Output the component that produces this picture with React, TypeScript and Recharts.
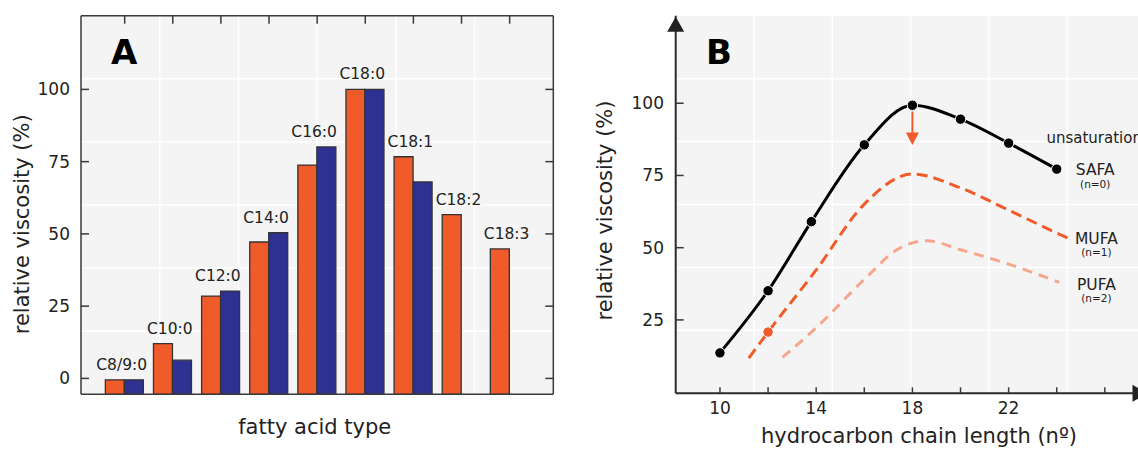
import React from 'react';
import {
  ComposedChart, Bar, Line, XAxis, YAxis, CartesianGrid, LabelList, ReferenceDot,
} from 'recharts';

const FONT = '"DejaVu Sans", Verdana, sans-serif';
const ORANGE = '#f15a29';
const BLUE = '#2e3192';
const SALMON = '#f5a68c';
const INK = '#222';
const AXIS = '#3a3a3a';
const PANEL_BG = '#f4f4f4';

// panel A: relative viscosity per fatty acid
const acids = ['C8/9:0', 'C10:0', 'C12:0', 'C14:0', 'C16:0', 'C18:0', 'C18:1', 'C18:2', 'C18:3'];
const orangeVals = [-0.5, 12, 28.5, 47.2, 73.8, 100, 76.7, 56.7, 44.8];
const blueVals: (number | null)[] = [-0.5, 6.3, 30.2, 50.4, 80.1, 100, 68, null, null];
const yTicksA = [0, 25, 50, 75, 100];
const Y_DOMAIN_A: [number, number] = [-5.5, 125.5];

// panel B: viscosity vs chain length
const safa = [
  { n: 10, v: 13.6 }, { n: 12, v: 35.1 }, { n: 13.8, v: 59 }, { n: 16, v: 85.6 },
  { n: 18, v: 99.3 }, { n: 20, v: 94.5 }, { n: 22, v: 86.2 }, { n: 24, v: 77.2 },
];
const mufa = [
  { n: 11.2, v: 11.8 }, { n: 12, v: 20.8 }, { n: 14, v: 42.3 }, { n: 16, v: 65.1 },
  { n: 18, v: 75.5 }, { n: 20, v: 70.7 }, { n: 22, v: 63 }, { n: 24, v: 55.1 }, { n: 24.5, v: 53.2 },
];
const pufa = [
  { n: 12.6, v: 12 }, { n: 14, v: 22.3 }, { n: 16, v: 39 }, { n: 17.4, v: 49.5 },
  { n: 18.6, v: 52.4 }, { n: 20, v: 49.3 }, { n: 22, v: 44.3 }, { n: 24.1, v: 38 },
];
const MUFA_MARKED = 12;
const xTicksB = [10, 12, 14, 16, 18, 20, 22, 24, 26];
const xLabelsB = [10, 14, 18, 22];
const yTicksB = [25, 50, 75, 100];
const X_DOMAIN_B: [number, number] = [8.16, 27.69];
const Y_DOMAIN_B: [number, number] = [-0.4, 130.3];

// background grid: each panel split 6 x 6, not tied to the ticks
const GRID_DIV = 6;
const gridSteps = [1, 2, 3, 4, 5];

const barRows = acids.map((name, i) => ({
  name,
  sat: orangeVals[i],
  unsat: blueVals[i],
  top: Math.max(orangeVals[i], blueVals[i] ?? -Infinity),
}));

const vGrid = ({ offset }: any) => gridSteps.map((k) => offset.left + (offset.width * k) / GRID_DIV);
const hGrid = ({ offset }: any) => gridSteps.map((k) => offset.top + (offset.height * k) / GRID_DIV);

const LeftTick = ({ x, y, payload, gap }: any) => (
  <g>
    <line x1={x + gap} x2={x + gap + 8} y1={y} y2={y} stroke={AXIS} strokeWidth={1.5} />
    <text x={x} y={y} dy={6} textAnchor="end" fontSize={17} fill={INK} fontFamily={FONT}>
      {payload.value}
    </text>
  </g>
);

const RightTick = ({ x, y }: any) => (
  <line x1={x - 8} x2={x} y1={y} y2={y} stroke={AXIS} strokeWidth={1.5} />
);

const TopTick = ({ x, y }: any) => (
  <line x1={x} x2={x} y1={y} y2={y + 8} stroke={AXIS} strokeWidth={1.5} />
);

const BottomTickB = ({ x, y, payload }: any) => (
  <g>
    <line x1={x} x2={x} y1={y - 6} y2={y} stroke={AXIS} strokeWidth={1.5} />
    {xLabelsB.includes(payload.value) && (
      <text x={x} y={y + 21} textAnchor="middle" fontSize={17} fill={INK} fontFamily={FONT}>
        {payload.value}
      </text>
    )}
  </g>
);

const CatLabel = ({ x, y, value }: any) => (
  <text x={x - 3} y={y - 10} textAnchor="middle" fontSize={15.5} fill={INK} fontFamily={FONT}>
    {value}
  </text>
);

const seriesTag = (name: string, sub: string, subGap: number) => (p: any) => (
  <g>
    <text x={p.cx} y={p.cy} textAnchor="middle" fontSize={15.5} fill={INK} fontFamily={FONT}>{name}</text>
    <text x={p.cx} y={p.cy + subGap} textAnchor="middle" fontSize={10.5} fill={INK} fontFamily={FONT}>{sub}</text>
  </g>
);

const PanelA = () => (
  <ComposedChart
    width={570}
    height={453}
    data={barRows}
    margin={{ top: 14.7, right: 15.7, bottom: 57.7, left: 21 }}
    barGap={0}
    barCategoryGap={4.75}
  >
    <CartesianGrid stroke="#ffffff" strokeWidth={1.5} fill={PANEL_BG}
      verticalCoordinatesGenerator={vGrid} horizontalCoordinatesGenerator={hGrid} />
    <XAxis xAxisId="cat" dataKey="name" orientation="top" height={1} interval={0}
      tickSize={0} tickMargin={0} tickLine={false} tick={<TopTick />}
      axisLine={{ stroke: AXIS, strokeWidth: 1.5 }} padding={{ left: 19.6, right: 19.6 }} />
    <XAxis xAxisId="edge" dataKey="name" orientation="bottom" height={1}
      tick={false} tickLine={false} axisLine={{ stroke: AXIS, strokeWidth: 1.5 }} />
    <YAxis yAxisId="v" type="number" domain={Y_DOMAIN_A} ticks={yTicksA} allowDataOverflow width={60}
      tickSize={0} tickMargin={11} tickLine={false} tick={<LeftTick gap={11} />}
      axisLine={{ stroke: AXIS, strokeWidth: 1.5 }} />
    <YAxis yAxisId="vr" orientation="right" type="number" domain={Y_DOMAIN_A} ticks={yTicksA}
      allowDataOverflow width={1} tickSize={0} tickMargin={0} tickLine={false} tick={<RightTick />}
      axisLine={{ stroke: AXIS, strokeWidth: 1.5 }} />
    <Bar xAxisId="cat" yAxisId="v" dataKey={(d: any) => [Y_DOMAIN_A[0], d.sat]}
      fill={ORANGE} stroke="#333" strokeWidth={1.3} isAnimationActive={false} />
    <Bar xAxisId="cat" yAxisId="v" dataKey={(d: any) => (d.unsat == null ? null : [Y_DOMAIN_A[0], d.unsat])}
      fill={BLUE} stroke="#333" strokeWidth={1.3} isAnimationActive={false} />
    <Line xAxisId="cat" yAxisId="v" dataKey="top" stroke="none" dot={false} activeDot={false}
      isAnimationActive={false}>
      <LabelList dataKey="name" content={<CatLabel />} />
    </Line>
  </ComposedChart>
);

const PanelB = () => (
  <ComposedChart width={580} height={453} margin={{ top: 15.7, right: 14.5, bottom: 29.7, left: 35.7 }}>
    <CartesianGrid stroke="#ffffff" strokeWidth={1.5} fill={PANEL_BG}
      verticalCoordinatesGenerator={vGrid} horizontalCoordinatesGenerator={hGrid} />
    <XAxis xAxisId="x" type="number" dataKey="n" domain={X_DOMAIN_B} ticks={xTicksB} allowDataOverflow
      height={30} tickSize={0} tickMargin={0} tickLine={false} tick={<BottomTickB />}
      axisLine={{ stroke: '#2a2a2a', strokeWidth: 2 }} />
    <YAxis yAxisId="y" type="number" domain={Y_DOMAIN_B} ticks={yTicksB} allowDataOverflow width={60}
      tickSize={0} tickMargin={11.7} tickLine={false} tick={<LeftTick gap={11.7} />}
      axisLine={{ stroke: '#2a2a2a', strokeWidth: 2 }} />
    <Line xAxisId="x" yAxisId="y" data={pufa} dataKey="v" type="monotone" stroke={SALMON}
      strokeWidth={3} strokeDasharray="10 7" dot={false} activeDot={false} isAnimationActive={false} />
    <Line xAxisId="x" yAxisId="y" data={mufa} dataKey="v" type="monotone" stroke={ORANGE}
      strokeWidth={3} strokeDasharray="11 6" activeDot={false} isAnimationActive={false}
      dot={(p: any) => (p.payload.n === MUFA_MARKED
        ? <circle key={`m${p.index}`} cx={p.cx} cy={p.cy} r={5.2} fill={ORANGE} stroke="#fff" strokeWidth={1} />
        : <g key={`m${p.index}`} />)} />
    <Line xAxisId="x" yAxisId="y" data={safa} dataKey="v" type="monotone" stroke="#000"
      strokeWidth={3} activeDot={false} isAnimationActive={false}
      dot={{ r: 5.2, fill: '#000', stroke: '#fff', strokeWidth: 1 }} />
    {/* arrow: unsaturation lowers the peak */}
    <ReferenceDot xAxisId="x" yAxisId="y" x={18} y={97.1} ifOverflow="visible"
      shape={(p: any) => (
        <g>
          <line x1={p.cx} x2={p.cx} y1={p.cy} y2={p.cy + 22} stroke={ORANGE} strokeWidth={2} />
          <path d={`M${p.cx - 6.5},${p.cy + 21} L${p.cx + 6.5},${p.cy + 21} L${p.cx},${p.cy + 33.5} Z`} fill={ORANGE} />
        </g>
      )} />
    {/* axis arrowheads */}
    <ReferenceDot xAxisId="x" yAxisId="y" x={X_DOMAIN_B[0]} y={Y_DOMAIN_B[1]} ifOverflow="visible"
      shape={(p: any) => <path d={`M${p.cx},${p.cy + 1} L${p.cx - 8.5},${p.cy + 16} L${p.cx + 8.5},${p.cy + 16} Z`} fill="#222" />} />
    <ReferenceDot xAxisId="x" yAxisId="y" x={X_DOMAIN_B[1]} y={Y_DOMAIN_B[0]} ifOverflow="visible"
      shape={(p: any) => <path d={`M${p.cx + 2},${p.cy} L${p.cx - 13},${p.cy - 8.5} L${p.cx - 13},${p.cy + 8.5} Z`} fill="#222" />} />
    <ReferenceDot xAxisId="x" yAxisId="y" x={23.57} y={86.2} ifOverflow="visible"
      shape={(p: any) => (
        <text x={p.cx} y={p.cy} fontSize={15} fill={INK} fontFamily={FONT}>unsaturation</text>
      )} />
    <ReferenceDot xAxisId="x" yAxisId="y" x={25.6} y={75.2} ifOverflow="visible" shape={seriesTag('SAFA', '(n=0)', 13.5)} />
    <ReferenceDot xAxisId="x" yAxisId="y" x={25.65} y={51.2} ifOverflow="visible" shape={seriesTag('MUFA', '(n=1)', 12)} />
    <ReferenceDot xAxisId="x" yAxisId="y" x={25.65} y={35.4} ifOverflow="visible" shape={seriesTag('PUFA', '(n=2)', 12.5)} />
  </ComposedChart>
);

export default function App() {
  return (
    <div style={{ position: 'absolute', left: 0, top: 0, width: 1138, height: 453, overflow: 'hidden', background: '#fff', fontFamily: FONT }}>
      <div style={{ position: 'absolute', left: 0, top: 0 }}>
        <PanelA />
      </div>
      <div style={{ position: 'absolute', left: 580, top: 0 }}>
        <PanelB />
      </div>
      <svg width={1138} height={453} style={{ position: 'absolute', left: 0, top: 0, pointerEvents: 'none' }}>
        <g fontFamily={FONT} fill={INK}>
          <text x={111} y={64} fontSize={34} fontWeight="bold" fill="#000">A</text>
          <text x={706} y={64} fontSize={34} fontWeight="bold" fill="#000">B</text>
          <text transform="translate(29,224.3) rotate(-90)" textAnchor="middle" fontSize={21}>relative viscosity (%)</text>
          <text x={314.7} y={433.5} textAnchor="middle" fontSize={21}>fatty acid type</text>
          <text transform="translate(611.5,210.5) rotate(-90)" textAnchor="middle" fontSize={21}>relative viscosity (%)</text>
          <text x={919} y={443} textAnchor="middle" fontSize={21}>hydrocarbon chain length (nº)</text>
        </g>
      </svg>
    </div>
  );
}
